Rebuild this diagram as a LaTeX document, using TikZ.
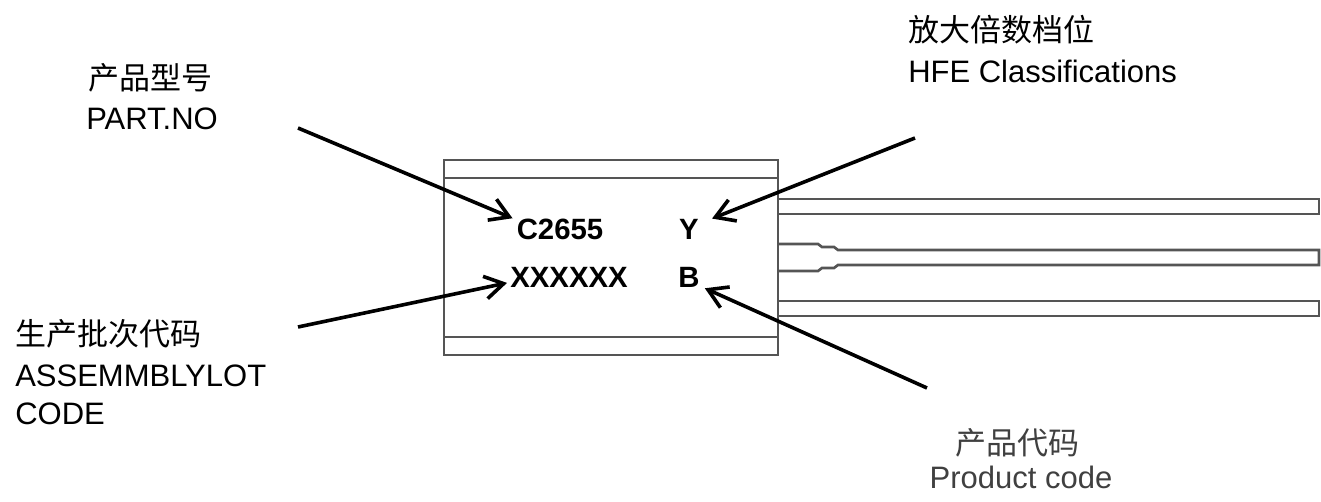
\documentclass[tikz,border=0pt]{standalone}
\usepackage{fontspec}
\setmainfont{Liberation Sans}
\newfontfamily\cjk{Noto Sans CJK SC}
\usetikzlibrary{arrows.meta,calc}
\definecolor{bodygray}{RGB}{85,85,85}
\definecolor{codegray}{RGB}{64,64,64}
\tikzset{
  lbltext/.style={inner sep=0pt,font=\fontsize{23.25pt}{28pt}\selectfont},
  cjktext/.style={inner sep=0pt,font=\cjk\fontsize{23.25pt}{28pt}\selectfont},
  marktext/.style={inner sep=0pt,anchor=base,font=\bfseries\fontsize{22pt}{26pt}\selectfont},
  outline/.style={draw=bodygray,line width=2pt},
  callout/.style={line width=2.7pt,-{Straight Barb[length=14pt,width=17pt]}}
}
\begin{document}
\begin{tikzpicture}[x=0.75pt,y=0.75pt,yscale=-1,xscale=1]
\useasboundingbox (0,0) rectangle (1321,502);

%Shape: Rectangle [body]
\draw [outline] (444,160) rectangle (778,355) ;
%Straight Lines [body top band]
\draw [outline] (444,178) -- (778,178) ;
%Straight Lines [body bottom band]
\draw [outline] (444,337) -- (778,337) ;
%Shape: Lead [top]
\draw [outline] (778,199) -- (1319,199) -- (1319,214) -- (778,214) ;
%Shape: Lead [middle]
\draw [outline] (778,244) -- (818,244) -- (822,247) -- (834,247) -- (838,250) -- (1319,250) -- (1319,265) -- (838,265) -- (834,268) -- (822,268) -- (818,271) -- (778,271) ;
%Shape: Lead [bottom]
\draw [outline] (778,301) -- (1319,301) -- (1319,316) -- (778,316) ;

% Text Node
\node [marktext] (partno) at (560,240) {C2655};
% Text Node
\node [marktext] (hfe) at (689,240) {Y};
% Text Node
\node [marktext] (lot) at (569,288) {XXXXXX};
% Text Node
\node [marktext] (prod) at (689,288) {B};

% Text Node
\node [cjktext,anchor=base] (partcn) at (150,90) {产品型号};
% Text Node
\node [lbltext,anchor=base] (parten) at (152,130) {PART.NO};
% Text Node
\node [cjktext,anchor=base west] (hfecn) at (908,42) {放大倍数档位};
% Text Node
\node [lbltext,anchor=base west] (hfeen) at (908,83) {HFE Classifications};
% Text Node
\node [cjktext,anchor=base west] (lotcn) at (15,345) {生产批次代码};
% Text Node
\node [lbltext,anchor=base west] (loten) at (15,386) {ASSEMMBLYLOT};
% Text Node
\node [lbltext,anchor=base west] (lotcode) at (15,424) {CODE};
% Text Node
\node [cjktext,anchor=base,text=codegray] (prodcn) at (1017,454) {产品代码};
% Text Node
\node [lbltext,anchor=base,text=codegray] (proden) at (1021,488) {Product code};

\coordinate (partStart) at (298,128);
\coordinate (hfeStart) at (915,138);
\coordinate (lotStart) at (298,327);
\coordinate (prodStart) at (927,388);

%Straight Lines [arrows]
\draw [callout] (partStart) -- ($(partno.north west)+(-4,-1)$) ;
\draw [callout] (hfeStart) -- ($(hfe.north east)+(13,-1)$) ;
\draw [callout] (lotStart) -- ($(lot.west)+(-3,5)$) ;
\draw [callout] (prodStart) -- ($(prod.south east)+(5,0)$) ;

\end{tikzpicture}
\end{document}
